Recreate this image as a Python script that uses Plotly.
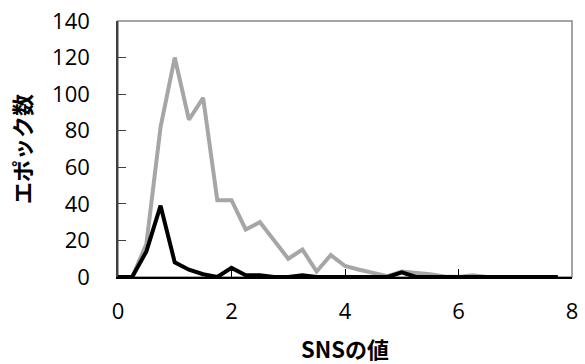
import plotly.graph_objects as go

x_values = [0, 0.25, 0.5, 0.75, 1.0, 1.25, 1.5, 1.75, 2.0, 2.25, 2.5, 2.75,
            3.0, 3.25, 3.5, 3.75, 4.0, 4.25, 4.5, 4.75, 5.0, 5.25, 5.5, 5.75,
            6.0, 6.25, 6.5, 6.75, 7.0, 7.25, 7.5, 7.75]
gray_series = [0, 0, 18, 82, 120, 86, 98, 42, 42, 26, 30, 20,
               10, 15, 3, 12, 6, 4, 2, 0.5, 3, 2.5, 1.5, 0.3,
               0, 1, 0, 0, 0, 0, 0, 0]
black_series = [0, 0, 14, 39, 8, 4, 1.5, 0, 5, 1, 1, 0,
                0, 1, 0, 0, 0, 0, 0, 0, 2.5, 0, 0, 0,
                0, 0, 0, 0, 0, 0, 0, 0]
x_ticks = [0, 2, 4, 6, 8]
y_ticks = [0, 20, 40, 60, 80, 100, 120, 140]

fig = go.Figure()
fig.add_trace(go.Scatter(x=x_values, y=gray_series, mode="lines",
                         line=dict(color="#A6A6A6", width=4), showlegend=False))
fig.add_trace(go.Scatter(x=x_values, y=black_series, mode="lines",
                         line=dict(color="#000000", width=4), showlegend=False))

tick_font = dict(family="Open Sans, Liberation Sans, sans-serif", size=22, color="#000000")
title_font = dict(family="Noto Sans CJK JP, sans-serif", size=22, color="#000000")

fig.update_layout(
    width=585, height=364,
    margin=dict(l=118, r=13, t=21, b=87),
    paper_bgcolor="white", plot_bgcolor="white",
    shapes=[dict(type="rect", xref="paper", yref="paper", x0=0, y0=0, x1=1, y1=1,
                 line=dict(color="#868686", width=1.5), layer="below")],
)
fig.update_xaxes(
    range=[0, 8], tickvals=x_ticks, ticks="inside", ticklen=8, tickcolor="#000000",
    showline=True, linecolor="#000000", linewidth=1.5, showgrid=False, zeroline=False,
    tickfont=tick_font, ticklabelstandoff=14, automargin=False,
    title=dict(text="<b>SNSの値</b>", font=title_font, standoff=22),
)
fig.update_yaxes(
    range=[0, 140], tickvals=y_ticks, ticks="inside", ticklen=8, tickcolor="#404040",
    showline=True, linecolor="#404040", linewidth=1.5, showgrid=False, zeroline=False,
    tickfont=tick_font, ticklabelstandoff=22, automargin=False,
    title=dict(text="<b>エポック数</b>", font=title_font, standoff=14),
)

fig.write_html("out.html", config={"displayModeBar": False},
               post_script="document.body.style.margin='0';document.body.style.overflow='hidden';")
